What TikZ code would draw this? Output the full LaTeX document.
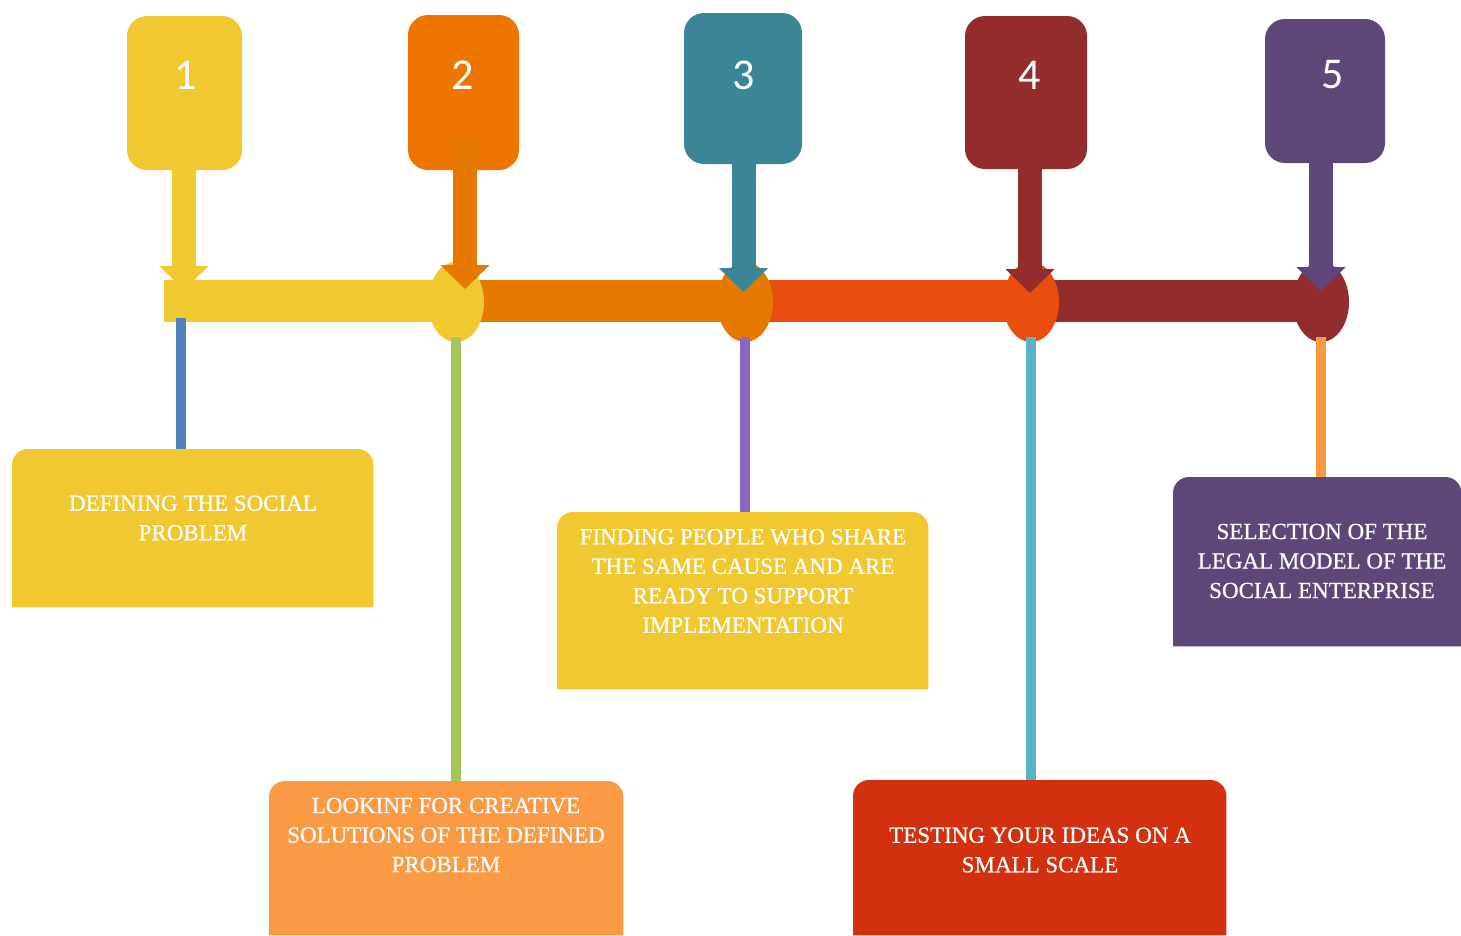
\documentclass[tikz,border=0pt]{standalone}
\usepackage{fontspec}
\setmainfont{Liberation Serif}
\newfontfamily\digitfont{Carlito}
\newfontfamily\capfont{Liberation Serif}[FakeBold=0.6]
\usetikzlibrary{arrows.meta,shapes.geometric}

\definecolor{gold}{HTML}{F0C832}
\definecolor{tangerine}{HTML}{EE7600}
\definecolor{amber}{HTML}{E67A00}
\definecolor{teal}{HTML}{3A8597}
\definecolor{vermilion}{HTML}{E94E0F}
\definecolor{maroon}{HTML}{932D2D}
\definecolor{plum}{HTML}{5E4679}
\definecolor{apricot}{HTML}{FB9A44}
\definecolor{scarlet}{HTML}{D2300F}
\definecolor{steel}{HTML}{4F81BD}
\definecolor{lime}{HTML}{A5C55A}
\definecolor{lavender}{HTML}{8A67C0}
\definecolor{sky}{HTML}{5AB1C9}

\tikzset{
  numbox/.style={rounded corners=20pt, inner sep=0pt},
  digit/.style={text=white, font=\digitfont\fontsize{44}{44}\selectfont, inner sep=0pt},
  hub/.style={ellipse, inner sep=0pt, minimum width=56pt, minimum height=80pt},
  bar/.style={line width=42pt},
  pointer/.style={line width=24pt, -{Triangle[width=48pt,length=24pt]}},
  stem/.style={line width=10pt},
  panel/.style={inner sep=0pt, anchor=north west},
  caption/.style={text=white, align=center, inner sep=0pt,
                  font=\capfont\fontsize{23}{29.5}\selectfont},
}

% fill of a panel, round at the top only
\newcommand{\panelfill}[2]{%
  \fill[#2] (#1.south west) [rounded corners=16pt] -- (#1.north west)
    -- (#1.north east) [sharp corners] -- (#1.south east) -- cycle;
}

\begin{document}
\begin{tikzpicture}[x=1pt, y=-1pt]
  \useasboundingbox (0,0) rectangle (1461,935);

  % ---------------- number boxes ----------------
  \node[numbox, fill=gold, minimum width=115pt, minimum height=154pt] (num1) at (184.5,93) {};
  \node[numbox, fill=tangerine, minimum width=111pt, minimum height=155pt] (num2) at (463.5,92.5) {};
  \node[numbox, fill=teal, minimum width=118pt, minimum height=151pt] (num3) at (743,88.5) {};
  \node[numbox, fill=maroon, minimum width=122pt, minimum height=153pt] (num4) at (1026,92.5) {};
  \node[numbox, fill=plum, minimum width=120pt, minimum height=144pt] (num5) at (1325,91) {};
  \node[digit] (d1) at (186,75) {1};
  \node[digit] (d2) at (463,75) {2};
  \node[digit] (d3) at (744,75) {3};
  \node[digit] (d4) at (1030,75) {4};
  \node[digit] (d5) at (1333,75) {5};

  % ---------------- time line ----------------
  \coordinate (start) at (164,301);
  \coordinate (tip1) at (184,290);
  \coordinate (tip2) at (465,289);
  \coordinate (tip3) at (743.5,292);
  \coordinate (tip4) at (1030,293);
  \coordinate (tip5) at (1321,291);
  \coordinate (foot1) at (181,318);

  \node[hub] (hub2) at (456,302) {};
  \node[hub] (hub3) at (745,302) {};
  \node[hub] (hub4) at (1031,302) {};
  \node[hub] (hub5) at (1321,302) {};

  \draw[pointer, gold] (tip1 |- num1.south) -- (tip1);
  \draw[bar, gold] (start) -- (hub2.center |- start);
  \draw[bar, amber] (hub2.center |- start) -- (hub3.center |- start);
  \draw[bar, vermilion] (hub3.center |- start) -- (hub4.center |- start);
  \draw[bar, maroon] (hub4.center |- start) -- (hub5.center |- start);
  \fill[gold] (hub2.center) ellipse (28pt and 40pt);
  \fill[amber] (hub3.center) ellipse (28pt and 40pt);
  \fill[vermilion] (hub4.center) ellipse (28pt and 40pt);
  \fill[maroon] (hub5.center) ellipse (28pt and 40pt);

  \draw[pointer, amber] ([yshift=32pt]tip2 |- num2.south) -- (tip2);
  \draw[pointer, teal] (tip3 |- num3.south) -- (tip3);
  \draw[pointer, maroon] (tip4 |- num4.south) -- (tip4);
  \draw[pointer, plum] (tip5 |- num5.south) -- (tip5);

  % ---------------- panels ----------------
  \node[panel, minimum width=361pt, minimum height=158pt] (box1) at (12,449) {};
  \node[panel, minimum width=354pt, minimum height=154pt] (box2) at (269,781) {};
  \node[panel, minimum width=371pt, minimum height=177pt] (box3) at (557,512) {};
  \node[panel, minimum width=373pt, minimum height=155pt] (box4) at (853,780) {};
  \node[panel, minimum width=288pt, minimum height=169pt] (box5) at (1173,477) {};

  \draw[stem, steel] (foot1) -- (foot1 |- box1.north);
  \draw[stem, lime] ([yshift=5pt]hub2.south) -- (hub2.south |- box2.north);
  \draw[stem, lavender] ([yshift=5pt]hub3.south) -- (hub3.south |- box3.north);
  \draw[stem, sky] ([yshift=5pt]hub4.south) -- (hub4.south |- box4.north);
  \draw[stem, apricot] ([yshift=5pt]hub5.south) -- (hub5.south |- box5.north);

  \panelfill{box1}{gold}
  \panelfill{box2}{apricot}
  \panelfill{box3}{gold}
  \panelfill{box4}{scarlet}
  \panelfill{box5}{plum}

  \node[caption] (t1) at (193,518) {DEFINING THE SOCIAL\\PROBLEM};
  \node[caption] (t2) at (446,835) {LOOKINF FOR CREATIVE\\SOLUTIONS OF THE DEFINED\\PROBLEM};
  \node[caption] (t3) at (743,581) {FINDING PEOPLE WHO SHARE\\THE SAME CAUSE AND ARE\\READY TO SUPPORT\\IMPLEMENTATION};
  \node[caption] (t4) at (1040,850) {TESTING YOUR IDEAS ON A\\SMALL SCALE};
  \node[caption] (t5) at (1322,561) {SELECTION OF THE\\LEGAL MODEL OF THE\\SOCIAL ENTERPRISE};
\end{tikzpicture}
\end{document}
